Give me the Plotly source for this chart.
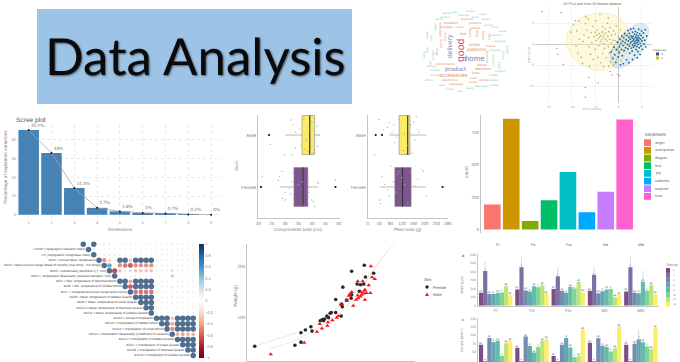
import plotly.graph_objects as go

W, H = 680, 362
GRAY = "#7f7f7f"
LIGHT = "#c4c4c4"
SANS = "Liberation Sans, Arial, sans-serif"

# ---------- data ----------
scree_dims = [1, 2, 3, 4, 5, 6, 7, 8, 9]
scree_vals = [45.2, 33, 14.3, 3.7, 1.8, 1, 0.7, 0.2, 0]
scree_labels = ["45.2%", "33%", "14.3%", "3.7%", "1.8%", "1%", "0.7%", "0.2%", "0%"]

sentiments = ["anger", "anticipation", "disgust", "fear", "joy", "sadness", "surprise", "trust"]
sentiment_counts = [192, 852, 65, 225, 442, 132, 290, 847]
sentiment_colors = ["#F8766D", "#CD9600", "#7CAE00", "#00BE67", "#00BFC4", "#00A9FF", "#C77CFF", "#FF61CC"]

comp_male = dict(q1=36.3, median=39.2, q3=41, lowerfence=30, upperfence=43)
comp_female = dict(q1=33.3, median=36.7, q3=38.5, lowerfence=28, upperfence=42.5)
comp_out_x = [24, 21, 48.8]
comp_out_y = [1, 0, 0]
comp_x = [32.2, 33, 34, 35.5, 37, 38, 39, 40, 41, 42, 42.5, 36, 37.5, 39.5, 41, 42, 33.8, 29.8, 32.7, 38.5, 40.5, 24.5,
          21.5, 28.8, 28, 27.5, 30, 31.5, 32, 32.5, 33, 29, 30, 38.5, 40, 40.5, 41, 42.5, 42.2, 35, 37, 39, 36.5, 48.8]
comp_y = [1.29, 1.2, 1.05, 1.12, 1.3, .9, 1.1, 1.25, .95, 1.17, 1, .8, .72, .85, .7, .78, .75, .62, .62, .68, .65, .82,
          .2, .3, .2, .13, -.1, -.02, -.13, .1, .27, -.22, -.25, .15, -.25, -.28, -.38, .07, .09, .05, -.36, -.1, .1, .13]

peso_male = dict(q1=110, median=140, q3=148, lowerfence=75, upperfence=205)
peso_female = dict(q1=95, median=122, q3=152, lowerfence=42, upperfence=205)
peso_out_x = [28, 50, 262]
peso_out_y = [1, 1, 0]
peso_x = [40, 55, 75, 85, 92, 70, 100, 110, 95, 160, 170, 175, 180, 165, 140, 145, 150, 128, 125, 135, 25, 155,
          80, 50, 42, 45, 70, 75, 90, 110, 120, 130, 150, 165, 175, 190, 195, 205, 100, 105, 140, 60]
peso_y = [1.3, 1.1, 1.24, 1.05, 1.2, 1.15, .95, 1.3, .85, 1.25, 1.35, 1.1, 1.05, .9, .8, .7, 1.2, 1.02, .7, .64, .62, .65,
          .4, .2, -.25, -.32, -.05, -.18, .1, .3, .18, .05, .3, .02, .15, .33, .3, -.17, -.1, .25, -.3, .05]

corr_rows = ["Slope", "TRASP (Topographic Radiation Index)", "TRI (Topographic Roughness Index)",
             "BIO1 = Annual Mean Temperature",
             "BIO2 = Mean Diurnal Range (Mean of monthly (max temp - min temp))",
             "BIO3 = Isothermality (BIO2/BIO7) (* 100)",
             "BIO4 = Temperature Seasonality (standard deviation *100)",
             "BIO5 = Max Temperature of Warmest Month", "BIO6 = Min Temperature of Coldest Month",
             "BIO7 = Temperature Annual Range (BIO5-BIO6)", "BIO8 = Mean Temperature of Wettest Quarter",
             "BIO9 = Mean Temperature of Driest Quarter", "BIO10 = Mean Temperature of Warmest Quarter",
             "BIO11 = Mean Temperature of Coldest Quarter", "BIO12 = Annual Precipitation",
             "BIO13 = Precipitation of Wettest Month", "BIO14 = Precipitation of Driest Month",
             "BIO15 = Precipitation Seasonality (Coefficient of Variation)", "BIO16 = Precipitation of Wettest Quarter",
             "BIO17 = Precipitation of Driest Quarter", "BIO18 = Precipitation of Warmest Quarter",
             "BIO19 = Precipitation of Coldest Quarter"]
# each row starts on the diagonal
corr_vals = [
    [1, .05, 1, .05, -.2, -.15, -.1, .04, .04, .04, .03, .03, .03, .03, .04, .04, .04, -.08, -.06, .04, .04, .04],
    [1, .04, .03, .03, .03, .04, .03, .03, .03, .03, .03, .03, .03, .03, .03, .03, .03, .03, .03, .03, .03],
    [1, .03, .04, -.2, -.2, -.15, .04, .04, .03, .03, .03, .03, .03, .06, .06, .06, .06, .06, .06, .06],
    [1, -.6, -.3, .04, 1, 1, -.4, 1, 1, 1, 1, .04, .04, .04, .04, .04, .04, .04, .04],
    [1, .7, .04, -.6, -.7, -.8, -.6, -.6, -.6, -.6, .04, .04, .04, .04, .04, .04, .04, .04],
    [1, -.9, -.4, -.2, .3, -.4, -.4, -.4, -.4, .04, .04, .04, -.3, .04, .04, .04, .04],
    [1, .04, .04, .04, .04, .04, .04, .04, -.1, -.1, -.1, .4, -.1, -.1, -.1, -.1],
    [1, 1, -.5, 1, 1, 1, 1, .04, .04, .04, .1, .04, .04, .04, .04],
    [1, -.8, 1, 1, 1, 1, .04, .04, .04, .2, .04, .04, .04, .04],
    [1, -.7, -.7, -.7, -.7, -.15, -.15, -.1, .04, -.15, -.15, -.15, -.15],
    [1, 1, 1, 1, .04, .04, .04, .15, .04, .04, .04, .04],
    [1, 1, 1, .04, .04, .04, .2, .04, .04, .04, .04],
    [1, 1, .04, .04, .04, .1, .04, .04, .04, .04],
    [1, .04, .04, .04, .15, .04, .04, .04, .04],
    [1, 1, 1, -.4, 1, 1, 1, 1],
    [1, 1, -.5, 1, 1, 1, 1],
    [1, -.6, 1, 1, 1, 1],
    [1, -.45, -.5, -.45, -.45],
    [1, 1, 1, 1],
    [1, 1, 1],
    [1, 1],
    [1],
]
corr_ticks = [-1, -0.8, -0.6, -0.4, -0.2, 0, 0.2, 0.4, 0.6, 0.8, 1]

female_x = [10.9, 18.2, 19.3, 19.3, 20.1, 21.1, 21.3, 22.8, 23.2, 23.4, 23.6, 24, 24.3, 24.6, 24.8, 25.6, 26.6, 25.6, 26.6,
            26.8, 26.9, 27.6, 28.4, 28.5, 28.5, 29.5, 29.9, 30.1, 30.7, 30.8, 31, 32.5, 26.7]
female_y = [43.7, 45.7, 51.7, 70.2, 75.5, 82.1, 73.5, 94, 96, 94, 97.4, 103, 100, 108.6, 109.9, 109.9, 103, 135.8, 126.5,
            121.2, 160, 134.4, 138.4, 145, 191.4, 166, 151.7, 164.9, 166, 203.3, 180, 187.4, 126.5]
male_x = [13.8, 19.9, 22.2, 23.1, 22.7, 24.1, 24.2, 25, 25.8, 26.1, 26.6, 27.6, 28, 28.2, 28.5, 28.8, 29.3, 29.6, 29.6,
          30.1, 30.3, 30.5, 30.7, 30.8, 30.9, 31.2, 31.6, 31.9, 32, 32.2, 32.7, 29.7, 30.2, 30.9]
male_y = [27.8, 50.3, 72.2, 78.8, 87.4, 84.1, 90.7, 94.7, 100, 103.3, 126.5, 133.1, 143, 146.4, 150.3, 123.2, 135.1, 143.7,
          171.5, 141.7, 145, 171.5, 147.7, 153, 135.1, 148.3, 163.6, 148.3, 201.3, 179.5, 176.2, 138.4, 150.3, 155]
female_curve_x = [10.9, 15.2, 20, 23.6, 26.7, 29.7, 32.1, 34]
female_curve_y = [43.7, 59, 76.8, 98.7, 128.5, 158.3, 188, 217.9]
male_curve_x = [13.7, 17.6, 21.2, 24.8, 27.9, 30.9, 33.3, 36.4]
male_curve_y = [39, 52.3, 72.2, 95.4, 125.2, 168.2, 207.9, 247.6]

tissues = ["Fl", "Fo", "Fro", "Ms", "Mlo"]
times = ["0", "1", "2", "3", "6", "12", "24", "48"]
time_colors = ["#440154", "#46337E", "#365C8D", "#277F8E", "#1FA187", "#4AC16D", "#A0DA39", "#FDE725"]
width_vals = [
    [150, 190, 195, 175, 167],
    [405, 448, 345, 360, 448],
    [138, 178, 175, 145, 152],
    [138, 165, 150, 168, 144],
    [148, 228, 220, 190, 280],
    [155, 214, 200, 195, 175],
    [228, 240, 278, 100, 240],
    [122, 140, 155, 130, 132],
]
width_err = [
    [12, 15, 15, 12, 12],
    [105, 120, 105, 100, 130],
    [10, 12, 12, 10, 10],
    [10, 12, 12, 10, 10],
    [10, 20, 20, 15, 130],
    [12, 15, 15, 15, 12],
    [15, 20, 20, 10, 20],
    [10, 10, 12, 10, 10],
]
density_vals = [
    [72, 63, 39, 78, 72],
    [23, 23, 23, 23, 23],
    [92, 96, 72, 91, 75],
    [79, 68, 92, 69, 88],
    [84, 49, 64, 65, 79],
    [39, 65, 35, 52, 67],
    [76, 84, 39, 61, 59],
    [84, 89, 116, 124, 121],
]
density_err = [
    [4, 4, 4, 4, 15],
    [0, 0, 0, 0, 0],
    [4, 4, 4, 4, 10],
    [4, 4, 4, 4, 30],
    [4, 4, 4, 4, 8],
    [3, 4, 3, 4, 4],
    [4, 4, 3, 4, 4],
    [4, 4, 5, 5, 5],
]
bar_letters = ["bc", "a", "cd", "d", "cd", "c", "ab", "de"]

pca_y_x = [-10.2, -9.6, -8.9, -8.4, -9.1, -8.7, -8.0, -7.6, -7.4, -7.1, -6.8, -6.5, -6.4, -6.3, -6.0, -5.9, -5.7, -5.5, -5.4, -5.2, -5.0, -5.0, -4.9, -4.8, -4.6, -4.5, -4.4, -4.3, -4.2, -4.1, -4.0, -3.9, -3.8, -3.8, -3.6, -3.5, -3.4, -3.4, -3.3, -3.2, -3.1, -3.0, -2.9, -2.8, -2.7, -2.6, -2.5, -2.4, -2.3, -2.2, -2.1, -2.0, -1.9, -1.8, -1.7, -1.6, -1.5, -1.4, -1.3, -1.2, -1.1, -1.0, -0.9, -0.8, -0.7, -0.6, -0.5, -0.4, -0.3, -0.2, -0.1, 0.1, 0.2, 0.4, 0.5, 0.7, 1.0, 1.3, -7.7, -6.2, -3.2, -2.1, -1.0, -8.4, -7.0, -4.0, -2.2]
pca_y_y = [2.9, 4.6, 3.2, 1.2, -0.4, -2.1, -3.1, 0.7, 2.3, 4.9, 3.4, 6.1, 1.6, -0.6, -2.4, 2.8, 0.4, 4.3, -3.6, 1.9, 2.9, -1.2, 5.6, 0.9, 2.2, 3.4, -3.1, 1.4, -0.3, 2.6, 1.8, 0.6, 2.1, -4.4, 1.1, 2.9, 4.2, -2.2, 1.7, 0.2, 2.3, -1.0, 3.7, 1.3, 2.7, -3.2, 0.8, 5.0, 1.9, -0.6, 3.0, -2.1, 1.2, 4.0, -4.2, 0.3, 2.2, -1.4, -3.0, 1.0, 3.2, -0.5, -2.3, 0.9, 2.4, -1.2, 4.4, -3.6, 0.4, -0.9, 1.7, -2.2, -0.2, 3.4, -3.9, 0.9, -1.5, 2.2, -4.5, -5.2, -5.3, -5.2, -4.9, 5.5, 6.6, 7.1, 6.3]
pca_b_x = [-1.6, -1.2, -1.0, -0.8, -0.6, -0.4, -0.2, -0.1, 0.1, 0.2, 0.3, 0.4, 0.5, 0.6, 0.7, 0.8, 0.9, 1.0, 1.1, 1.2, 1.3, 1.4, 1.5, 1.6, 1.7, 1.8, 1.9, 2.0, 2.0, 2.1, 2.2, 2.3, 2.3, 2.4, 2.5, 2.5, 2.6, 2.7, 2.7, 2.8, 2.9, 2.9, 3.0, 3.0, 3.1, 3.1, 3.2, 3.2, 3.3, 3.3, 3.4, 3.4, 3.5, 3.5, 3.6, 3.6, 3.7, 3.7, 3.8, 3.8, 3.9, 3.9, 4.0, 4.0, 4.1, 4.1, 4.2, 4.2, 4.3, 4.3, 4.4, 4.4, 4.5, 4.6, 4.6, 4.7, 4.8, 4.8, 4.9, 5.0, 5.1, 5.2, 5.3, 5.4, 5.6, 5.7, 5.8, 6.0, 3.0, 2.2, 1.0, 4.0]
pca_b_y = [-1.8, -3.4, -0.7, -2.5, -4.3, -1.3, 0.5, -3.0, -1.9, -0.6, 1.2, -4.9, 0.2, -1.2, 2.0, -2.7, 0.7, -0.3, 1.6, -1.5, 2.6, 0.4, -0.8, 1.1, -3.7, 2.1, 0.0, 3.3, -1.1, 0.8, 1.7, -0.4, 2.6, -2.1, 0.3, 1.2, 3.6, -0.9, 2.0, 0.6, 1.5, -1.6, -0.2, 2.9, 0.9, 1.9, -0.7, 3.8, 0.2, 1.3, 2.4, -2.6, -0.3, 0.7, 1.7, 3.1, -1.2, 0.3, 1.0, 2.2, -0.5, 1.5, 0.5, 2.8, -1.7, 1.1, 0.0, 2.0, 3.6, 0.8, -0.8, 1.5, 2.5, 0.3, -2.4, 1.2, -0.4, 2.1, 3.2, 0.8, -1.2, 1.6, 2.7, 0.1, 1.0, 3.5, -0.6, 2.0, -3.6, -4.4, -4.6, -3.2]
pca_o_x = [-16.4, -12.3, -9.3, -13.2, -13, -11.8, -1.8, -1.4, -0.2, 0.2, -6.4, -7.1, -4.4, -7.1]
pca_o_y = [7.8, 7.6, 5.7, -1, -2.4, -4.8, -6.5, -7.3, -7.1, -7.5, -7.9, -10.3, -9.2, -12.6]
ell_y_x = [-11.2, -10.4, -8.2, -5.4, -2.5, .36, 2.1, 2.5, 1.4, -1.1, -3.9, -7.1, -9.6, -10.9, -11.2]
ell_y_y = [1.03, 3.8, 6.2, 7.3, 7.4, 6.2, 3.4, .63, -2.5, -5.3, -6.3, -5.3, -3.3, -.95, 1.03]
ell_b_x = [-1.8, -.7, 1.07, 3.2, 5, 6.2, 6.3, 5.4, 3.6, 1.4, -.36, -1.6, -1.8]
ell_b_y = [-2.5, .24, 2.6, 4.4, 5, 4.2, 2.2, -.56, -3.3, -5.2, -5.7, -4.76, -2.5]

# word, centre x, centre y in the 110x90 cloud, size, colour, angle
PINK, PURP, ORNG, GRN = "#E5408F", "#8580BD", "#E0905F", "#8CCFB8"
cloud = [
    ("good", 45, 45, 10.5, PINK, -90), ("home", 59.5, 53.5, 7.8, PURP, 0), ("delivery", 35.5, 41.5, 6.8, PURP, -90),
    ("product", 40.5, 63.5, 6.2, PURP, 0), ("platforms", 62, 45, 4.8, ORNG, 0), ("online", 60, 39, 4.2, ORNG, 0),
    ("accessories", 38.5, 70, 5.4, ORNG, 0), ("convenience", 30, 58.5, 3.4, ORNG, 0), ("discounts", 68, 63.5, 3.8, ORNG, 0),
    ("offered", 66.5, 60, 3.2, ORNG, 0), ("reputation", 35, 17.5, 3.4, ORNG, 0), ("shopper", 32, 22, 3.3, ORNG, 0),
    ("find", 48, 28.5, 3.7, ORNG, 0), ("electronics", 35, 75, 3.2, ORNG, 0), ("appliances", 41.5, 78.5, 3, ORNG, 0),
    ("utilities", 68.5, 75, 3.2, ORNG, 0), ("foods", 61, 68, 3.2, ORNG, 0), ("products", 61, 18.5, 3.2, ORNG, 0),
    ("variety", 26, 38, 3.2, ORNG, -90), ("prices", 30, 32, 3.2, ORNG, -90), ("offers", 22, 47, 3.2, ORNG, -90),
    ("quality", 55, 28, 3.2, ORNG, -90), ("shop", 62, 28, 3.2, ORNG, -90), ("buying", 68, 30, 3.2, ORNG, -90), ("easy", 74, 32, 3.2, ORNG, -90),
    ("experience", 25, 25, 3, ORNG, -90), ("website", 60, 23, 3, ORNG, 0), ("groceries", 52, 14, 3, ORNG, 0), ("orders", 44, 22, 3, ORNG, 0),
    ("shopping", 72, 52, 3, ORNG, -90), ("brands", 76, 41, 3, ORNG, 0), ("order", 58, 73, 3, ORNG, 0), ("stores", 58, 76.5, 3, ORNG, 0),
    ("service", 30, 12, 3, GRN, 0), ("customer", 48, 10, 3, GRN, 0), ("store", 60, 12, 3, GRN, 0), ("market", 73, 20, 3, GRN, 0),
    ("payment", 81, 30, 3, GRN, 0), ("shipping", 85, 36, 3, GRN, 0), ("returns", 88, 50, 3, GRN, -90), ("labels", 84, 60, 3, GRN, -90),
    ("mobile", 78, 70, 3, GRN, 0), ("apps", 70, 81, 3, GRN, 0), ("deals", 55, 83, 3, GRN, 0), ("cash", 26, 80, 3, GRN, 0),
    ("choice", 20, 70, 3, GRN, 0), ("fast", 15, 58, 3, GRN, -90), ("time", 12, 45, 3, GRN, -90), ("trust", 16, 33, 3, GRN, -90),
    ("saves", 20, 22, 3, GRN, -90), ("items", 24, 14, 3, GRN, 0), ("safe", 40, 7, 3, GRN, 0), ("sellers", 71, 14, 3, GRN, 0),
    ("websites", 80, 45, 3, GRN, 0), ("purchase", 78, 56, 3, GRN, -90), ("comfort", 18, 50, 3, GRN, -90), ("access", 20, 65, 3, GRN, 0),
    ("cheap", 12, 30, 3, GRN, -90), ("rating", 9, 50, 3, GRN, -90), ("reviews", 16, 61, 3, GRN, 0), ("phone", 14, 75, 3, GRN, 0),
    ("clothes", 35, 84, 3, GRN, 0), ("gifts", 45, 86, 3, GRN, 0), ("value", 63, 81, 3, GRN, 0), ("helpful", 78, 75, 3, GRN, 0),
    ("support", 85, 66, 3, GRN, 0), ("refund", 92, 45, 3, GRN, -90), ("smart", 88, 26, 3, GRN, 0), ("tools", 80, 22, 3, GRN, 0),
    ("users", 68, 9, 3, GRN, 0), ("books", 55, 6, 3, GRN, 0), ("saving", 31, 8, 3, GRN, 0), ("review", 80, 80, 3, GRN, 0),
]

def dom_x(a, b):
    return [a / W, b / W]

def dom_y(top, bottom):
    return [1 - bottom / H, 1 - top / H]

ann = []
shapes = []

def txt(x, y, s, size, color=GRAY, xa="center", ya="middle", rot=0, family=SANS, **kw):
    ann.append(dict(x=x / W, y=1 - y / H, xref="paper", yref="paper", text=s, showarrow=False,
                    xanchor=xa, yanchor=ya, textangle=rot, font=dict(size=size, color=color, family=family),
                    borderpad=0, **kw))

def rect(x0, y0, x1, y1, fill, line=None):
    shapes.append(dict(type="rect", xref="paper", yref="paper", x0=x0 / W, x1=x1 / W, y0=1 - y0 / H, y1=1 - y1 / H,
                       fillcolor=fill, line=dict(width=0, color=line or fill)))

fig = go.Figure()

def base_axis(**kw):
    d = dict(showgrid=False, zeroline=False, showline=False, ticks="", showticklabels=False,
             tickfont=dict(size=4.5, color=GRAY, family=SANS), ticklen=1.5, tickwidth=0.5, tickcolor="#bbbbbb")
    d.update(kw)
    return d

layout_axes = {}

def axes(n, xd, yd, xr, yr, xkw=None, ykw=None):
    s = "" if n == 1 else str(n)
    layout_axes["xaxis" + s] = base_axis(domain=dom_x(*xd), range=xr, anchor="y" + s, **(xkw or {}))
    layout_axes["yaxis" + s] = base_axis(domain=dom_y(*yd), range=yr, anchor="x" + s, **(ykw or {}))
    return dict(xaxis="x" + s, yaxis="y" + s)

# ---------- title box ----------
rect(37, 9, 352, 104, "#9DC3E6")
ann.append(dict(x=196 / W, y=1 - 55 / H, xref="paper", yref="paper", text="Data Analysis", showarrow=False,
                xanchor="center", yanchor="middle",
                font=dict(size=51, color="#0a0a0a", family="Lato", shadow="1px 1px 2px #4a5a6a")))

# ---------- word cloud ----------
for w, cx, cy, sz, col, ang in cloud:
    txt(415 + cx, 5 + cy, w, sz, col, rot=ang)

# ---------- PCA ----------
PCA_TICK = dict(size=3.2, color="#a5a5a5", family=SANS)
a = axes(1, (535, 652), (6.7, 103.3), [-17.86, 7.14], [-14.05, 8.97],
         dict(showgrid=True, gridcolor="#f2f2f2", gridwidth=0.5, tickvals=[-15, -10, -5, 0, 5], showticklabels=True,
              tickfont=PCA_TICK, zeroline=True, zerolinecolor="#c8c8c8", zerolinewidth=0.6),
         dict(showgrid=True, gridcolor="#f2f2f2", gridwidth=0.5, tickvals=[-10, -5, 0, 5], showticklabels=True,
              tickfont=PCA_TICK, zeroline=True, zerolinecolor="#c8c8c8", zerolinewidth=0.6))
fig.add_trace(go.Scatter(x=ell_y_x, y=ell_y_y, mode="lines", fill="toself", fillcolor="rgba(250,236,170,0.36)",
                         line=dict(color="#F3E6A8", width=0.6, shape="spline"), **a))
fig.add_trace(go.Scatter(x=ell_b_x, y=ell_b_y, mode="lines", fill="toself", fillcolor="rgba(170,208,225,0.36)",
                         line=dict(color="#B5D5E5", width=0.6, shape="spline"), **a))
fig.add_trace(go.Scatter(x=pca_o_x, y=pca_o_y, mode="markers", marker=dict(size=1.5, color="#999999"), **a))
fig.add_trace(go.Scatter(x=pca_y_x, y=pca_y_y, mode="markers", marker=dict(size=1.6, color="#C2AC48"), **a))
fig.add_trace(go.Scatter(x=pca_b_x, y=pca_b_y, mode="markers", marker=dict(size=1.9, color="#276A98"), **a))
txt(592, 4, "2D PCA-plot from 30 feature dataset", 3.6, "#666666")
txt(592, 109, "Dim1 (44.3%)", 3, "#a0a0a0")
txt(529, 55, "Dim2 (19%)", 3, "#a0a0a0", rot=-90)
txt(652, 50, "Diagnosis", 3, "#666666", xa="left")
rect(656, 52.5, 659, 55.5, "#1F5C8C")
rect(656, 56.5, 659, 59.5, "#D9B93C")
txt(660, 54, "M", 2.8, GRAY, xa="left")
txt(660, 58, "B", 2.8, GRAY, xa="left")

# ---------- scree ----------
a = axes(2, (17, 222), (125, 219), [0.487, 9.48], [-2.26, 47.9],
         dict(showgrid=True, gridcolor="#e9e9e9", gridwidth=0.5, griddash="dot", tickvals=scree_dims, showticklabels=True,
              tickfont=dict(size=4, color="#999999", family=SANS)),
         dict(showgrid=True, gridcolor="#e9e9e9", gridwidth=0.5, griddash="dot", tickvals=[0, 10, 20, 30, 40], showticklabels=True,
              tickfont=dict(size=4, color="#999999", family=SANS)))
fig.add_trace(go.Bar(x=scree_dims, y=scree_vals, width=0.9, marker=dict(color="#4682B4", line=dict(width=0)), **a))
fig.add_trace(go.Scatter(x=scree_dims, y=scree_vals, mode="lines+markers+text", text=scree_labels,
                         textposition="top right", textfont=dict(size=4.6, color="#808080", family=SANS),
                         line=dict(color="#a6a6a6", width=0.8), marker=dict(size=2, color="#111111"), cliponaxis=False, **a))
txt(15, 120, "Scree plot", 6.6, "#555555", xa="left")
txt(5, 167, "Percentage of explained variances", 4.8, GRAY, rot=-90)
txt(120, 229, "Dimensions", 4.6, GRAY)

# ---------- boxplots ----------
ax_line = dict(showline=True, linecolor=LIGHT, linewidth=1.3)
a1 = axes(3, (258.3, 339.5), (115, 218), [20, 50.3], [-0.596, 1.385],
          dict(tickvals=[20, 25, 30, 35, 40, 45, 50], showticklabels=True, **ax_line),
          dict(tickvals=[0, 1], ticktext=["Female", "Male"], showticklabels=True, **ax_line))
a2 = axes(4, (367.7, 448), (115, 218), [0, 281], [-0.596, 1.385],
          dict(tickvals=[0, 40, 80, 120, 160, 200, 240, 280], showticklabels=True, **ax_line),
          dict(tickvals=[0, 1], ticktext=["Female", "Male"], showticklabels=True, **ax_line))
for a, male, female, jx, jy, ox, oy in [(a1, comp_male, comp_female, comp_x, comp_y, comp_out_x, comp_out_y),
                                        (a2, peso_male, peso_female, peso_x, peso_y, peso_out_x, peso_out_y)]:
    for pos, st, col in [(1, male, "#FBEB66"), (0, female, "#7E5591")]:
        fig.add_trace(go.Box(y=[pos], q1=[st["q1"]], median=[st["median"]], q3=[st["q3"]],
                             lowerfence=[st["lowerfence"]], upperfence=[st["upperfence"]], orientation="h", width=0.75,
                             whiskerwidth=0, boxpoints=False, fillcolor=col, line=dict(color="#8a8a8a", width=0.6), **a))
        fig.add_trace(go.Scatter(x=[st["median"], st["median"]], y=[pos - 0.375, pos + 0.375], mode="lines",
                                 line=dict(color="#333333", width=1.1), **a))
    fig.add_trace(go.Scatter(x=jx, y=jy, mode="markers", marker=dict(size=1.3, color="#a8a8a8"), **a))
    fig.add_trace(go.Scatter(x=ox, y=oy, mode="markers", marker=dict(size=2.2, color="#111111"), cliponaxis=False, **a))
txt(236, 166, "Sexo", 4.6, GRAY, rot=-90)
txt(298, 229, "Comprimento total (cm)", 4.6, GRAY)
txt(408, 229, "Peso total (g)", 4.6, GRAY)

# ---------- sentiment ----------
a = axes(5, (481, 636), (115, 232.5), [-0.6, 7.6], [-24, 855 + 26],
         dict(showline=False),
         dict(tickvals=[0, 250, 500, 750], showticklabels=True, **ax_line))
fig.add_trace(go.Bar(x=sentiments, y=sentiment_counts, width=0.88, marker=dict(color=sentiment_colors, line=dict(width=0)), **a))
txt(466, 172, "count", 4.8, GRAY, rot=-90)
txt(644, 134, "sentiment", 4.8, "#555555", xa="left")
for i, (s, c) in enumerate(zip(sentiments, sentiment_colors)):
    yy = 142.7 + i * 7.67
    rect(644, yy - 3.4, 651, yy + 3.4, c)
    txt(654, yy, s, 3.8, "#666666", xa="left")

# ---------- correlation dots ----------
rx, ry, rc, rs, rw = [], [], [], [], []
for r, vals in enumerate(corr_vals):
    for j, v in enumerate(vals):
        rx.append(r + j)
        ry.append(r)
        rc.append(v)
        rs.append(5.5 * abs(v) ** 0.5)
        rw.append(0.3 if abs(v) < 0.1 else 0)
scale = [[0, "#67001F"], [.1, "#B2182B"], [.2, "#D6604D"], [.3, "#F4A582"], [.4, "#FDDBC7"], [.5, "#FFFFFF"],
         [.6, "#D1E5F0"], [.7, "#92C5DE"], [.8, "#4393C3"], [.9, "#2166AC"], [1, "#053061"]]
a = axes(6, (80, 200), (241, 360), [-0.63, 22.3], [21.87, -0.62])
fig.add_trace(go.Scatter(x=rx, y=ry, mode="markers",
                         marker=dict(size=rs, color=rc, colorscale=scale, cmin=-1, cmax=1,
                                     line=dict(width=rw, color="rgba(130,130,130,0.45)"),
                                     colorbar=dict(thickness=5, thicknessmode="pixels", len=114, lenmode="pixels",
                                                   x=199 / W, xanchor="left", y=1 - 244 / H, yanchor="top", xpad=0, ypad=0,
                                                   outlinewidth=0, tickvals=corr_ticks, ticklen=0,
                                                   tickfont=dict(size=3.8, color=GRAY, family=SANS))),
                         **a))
fig.add_trace(go.Scatter(x=[r - 0.65 for r in range(len(corr_rows))], y=list(range(len(corr_rows))), mode="text", text=corr_rows,
                         textposition="middle left", textfont=dict(size=3.1, color="#444444", family=SANS),
                         cliponaxis=False, **a))

# ---------- weight / length ----------
a = axes(7, (247, 415), (244, 361), [9.5, 40], [14.6, 245],
         dict(tickvals=[10, 20, 30, 40], ticks="outside", **ax_line),
         dict(tickvals=[100, 200], showticklabels=True, **ax_line))
fig.add_trace(go.Scatter(x=female_curve_x, y=female_curve_y, mode="lines", line=dict(color="#e6d5d5", width=0.6, shape="spline"), **a))
fig.add_trace(go.Scatter(x=male_curve_x, y=male_curve_y, mode="lines", line=dict(color="#f3cfcf", width=0.6, shape="spline"), **a))
fig.add_trace(go.Scatter(x=female_x, y=female_y, mode="markers", marker=dict(size=3.6, color="#2a2a2a"), **a))
fig.add_trace(go.Scatter(x=male_x, y=male_y, mode="markers", marker=dict(size=4, symbol="triangle-up", color="#F01818"), **a))
txt(235, 296, "Weight (g)", 4.8, GRAY, rot=-90)
txt(423, 279, "Sex", 4.4, "#555555", xa="left")
txt(432, 287, "Female", 4, "#555555", xa="left")
txt(432, 294, "Male", 4, "#555555", xa="left")
shapes.append(dict(type="circle", xref="paper", yref="paper", x0=425.3 / W, x1=428.7 / W, y0=1 - 288.7 / H, y1=1 - 285.3 / H,
                   fillcolor="#222222", line=dict(width=0)))
shapes.append(dict(type="path", xref="paper", yref="paper",
                   path=f"M {425/W} {1-296/H} L {429/W} {1-296/H} L {427/W} {1-292.5/H} Z", fillcolor="#F01818", line=dict(width=0)))

# ---------- time-course bars ----------
a8 = axes(8, (477.5, 659), (254.3, 305.7), [-0.5, 4.5], [0, 600],
          dict(showline=True, linecolor=LIGHT, linewidth=0.6, tickvals=list(range(5)), ticktext=tissues, showticklabels=True),
          dict(tickvals=[0, 100, 200, 300, 400, 500, 600], showticklabels=True, showline=True, linecolor=LIGHT, linewidth=0.6,
               tickfont=dict(size=3.4, color=GRAY, family=SANS)))
a9 = axes(9, (477.5, 659), (318.3, 362), [-0.5, 4.5], [21, 150],
          None,
          dict(tickvals=[25, 50, 75, 100, 125, 150], showticklabels=True, showline=True, linecolor=LIGHT, linewidth=0.6,
               tickfont=dict(size=3.4, color=GRAY, family=SANS)))
idx = [0, 1, 2, 3, 4]
for vals, errs, col, let in zip(width_vals, width_err, time_colors, bar_letters):
    fig.add_trace(go.Bar(x=idx, y=vals, marker=dict(color=col, opacity=0.7, line=dict(width=0)),
                         error_y=dict(type="data", array=errs, arrayminus=[0] * 5, symmetric=False, thickness=0.5, width=0, color="#b5b5c8"),
                         text=[let] * 5, textposition="outside", cliponaxis=False,
                         textfont=dict(size=2.6, color="#444444", family=SANS), **a8))
for vals, errs, col, let in zip(density_vals, density_err, time_colors, bar_letters):
    fig.add_trace(go.Bar(x=idx, y=vals, marker=dict(color=col, opacity=0.7, line=dict(width=0)),
                         error_y=dict(type="data", array=errs, arrayminus=[0] * 5, symmetric=False, thickness=0.5, width=0, color="#b5b5c8"),
                         text=[let] * 5, textposition="outside",
                         textfont=dict(size=2.6, color="#444444", family=SANS), **a9))
for t, xx in zip(tissues, [497.7, 533, 569, 605, 641]):
    txt(xx, 245, t, 3.8, "#555555")
txt(463, 255, "a", 4, "#222222", )
txt(463, 319, "c", 4, "#222222")
txt(462, 285, "Width (µm)", 3.6, GRAY, rot=-90)
txt(462, 340, "Density (mm⁻²)", 3.6, GRAY, rot=-90)
txt(671.5, 265, "Time (h)", 3.2, "#555555")
for i, (s, c) in enumerate(zip(times, time_colors)):
    yy = 268 + i * 4.84
    rect(666, yy, 670, yy + 4.84, c)
    shapes[-1]["opacity"] = 0.72
    txt(672, yy + 2.4, s, 2.6, GRAY, xa="left")

fig.update_layout(width=W, height=H, autosize=False, margin=dict(l=0, r=0, t=0, b=0, pad=0, autoexpand=False),
                  paper_bgcolor="white", plot_bgcolor="rgba(0,0,0,0)", showlegend=False, barmode="group",
                  bargap=0.08, bargroupgap=0, annotations=ann, shapes=shapes, **layout_axes)
fig.write_html("out.html", config=dict(displayModeBar=False),
               post_script="document.body.style.margin='0';document.documentElement.style.overflow='hidden';"
                           "document.head.insertAdjacentHTML('beforeend','<style>text{text-rendering:geometricPrecision}</style>');")
